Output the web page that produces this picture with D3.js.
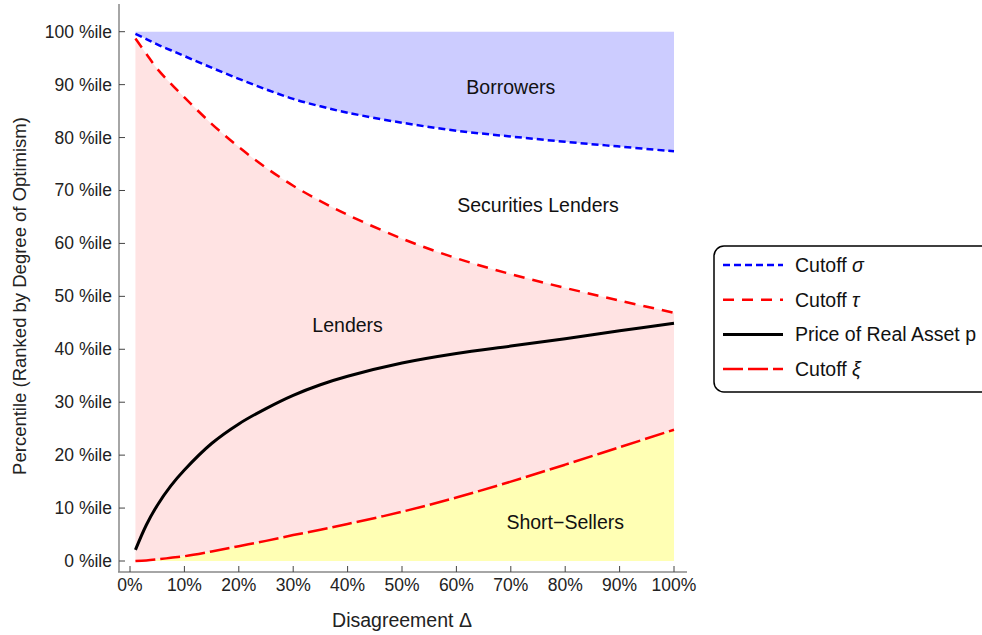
<!DOCTYPE html>
<html><head><meta charset="utf-8">
<script src="https://cdn.jsdelivr.net/npm/d3@7"></script>
<style>body{margin:0;background:#fff;}svg{display:block;font-family:"Liberation Sans",Arial,sans-serif;}</style>
</head><body>
<svg id="c" width="982" height="635"></svg>
<script>
const delta = [0.01,0.03,0.05,0.075,0.1,0.15,0.2,0.25,0.3,0.35,0.4,0.5,0.6,0.7,0.8,0.9,1.0];
const sigma = [99.6,98.6,97.6,96.5,95.4,93.2,91.1,89.1,87.3,85.9,84.7,82.8,81.3,80.2,79.2,78.3,77.4];
const tau   = [98.7,95.8,93.0,90.2,87.6,82.6,78.2,74.3,70.9,68.0,65.4,60.9,57.2,54.2,51.6,49.2,46.9];
const price = [2.1,6.8,10.5,14.2,17.2,22.2,25.9,28.8,31.3,33.3,34.9,37.4,39.2,40.6,42.0,43.5,44.9];
const xi    = [0.0,0.1,0.3,0.6,0.9,1.8,2.8,3.8,4.9,5.9,7.0,9.3,12.0,15.0,18.2,21.5,24.8];
const xTicks = [0,0.1,0.2,0.3,0.4,0.5,0.6,0.7,0.8,0.9,1.0];
const yTicks = [0,10,20,30,40,50,60,70,80,90,100];
const regionLabels = [
  {t:"Borrowers", x:0.70, y:89.5},
  {t:"Securities Lenders", x:0.75, y:67.2},
  {t:"Lenders", x:0.40, y:44.6},
  {t:"Short\u2212Sellers", x:0.80, y:7.3}
];
const legendItems = [
  {t:"Cutoff ", s:"\u03c3", color:"#0000ff", dash:"7,4", w:2.5},
  {t:"Cutoff ", s:"\u03c4", color:"#ff0000", dash:"11,8", w:2.5},
  {t:"Price of Real Asset p", s:"", color:"#000", dash:null, w:3},
  {t:"Cutoff ", s:"\u03be", color:"#ff0000", dash:"20,5", w:2.5}
];

const svg = d3.select("#c");
const x = d3.scaleLinear().domain([0,1]).range([130,674]);
const y = d3.scaleLinear().domain([0,100]).range([561,31.7]);
const data = delta.map((d,i)=>({d, s:sigma[i], t:tau[i], p:price[i], x:xi[i]}));
const curve = d3.curveCatmullRom.alpha(0.5);

svg.append("path").datum(data).attr("fill","#ccccff")
  .attr("d", d3.area().curve(curve).x(d=>x(d.d)).y0(y(100)).y1(d=>y(d.s)));
svg.append("path").datum(data).attr("fill","#ffe3e3")
  .attr("d", d3.area().curve(curve).x(d=>x(d.d)).y0(d=>y(d.x)).y1(d=>y(d.t)));
svg.append("path").datum(data).attr("fill","#ffffb4")
  .attr("d", d3.area().curve(curve).x(d=>x(d.d)).y0(y(0)).y1(d=>y(d.x)));

// axes
const axisCol = "#888";
svg.append("line").attr("x1",119).attr("x2",119).attr("y1",4).attr("y2",572).attr("stroke",axisCol).attr("stroke-width",1.5);
svg.append("line").attr("x1",118).attr("x2",687).attr("y1",572).attr("y2",572).attr("stroke",axisCol).attr("stroke-width",1.5);
const gx = svg.append("g");
xTicks.forEach(t=>{
  gx.append("line").attr("x1",x(t)).attr("x2",x(t)).attr("y1",572).attr("y2",566).attr("stroke","#444").attr("stroke-width",1);
  gx.append("text").attr("x",x(t)).attr("y",591).attr("text-anchor","middle").attr("font-size",17.5).attr("fill","#222").text(Math.round(t*100)+"%");
});
const gy = svg.append("g");
yTicks.forEach(t=>{
  gy.append("line").attr("x1",119).attr("x2",125).attr("y1",y(t)).attr("y2",y(t)).attr("stroke","#444").attr("stroke-width",1);
  gy.append("text").attr("x",112).attr("y",y(t)+6).attr("text-anchor","end").attr("font-size",17.5).attr("fill","#222").text(t+" %ile");
});
svg.append("text").attr("x",402).attr("y",627).attr("text-anchor","middle").attr("font-size",19.5).attr("fill","#222").text("Disagreement \u0394");
svg.append("text").attr("transform","translate(26,296) rotate(-90)").attr("text-anchor","middle").attr("font-size",18.5).attr("fill","#222").text("Percentile (Ranked by Degree of Optimism)");

// lines
const line = k => d3.line().curve(curve).x(d=>x(d.d)).y(d=>y(d[k]));
svg.append("path").datum(data).attr("fill","none").attr("stroke","#0000ff").attr("stroke-width",2.5).attr("stroke-dasharray","7,4").attr("d",line("s"));
svg.append("path").datum(data).attr("fill","none").attr("stroke","#ff0000").attr("stroke-width",2.5).attr("stroke-dasharray","11,8").attr("d",line("t"));
svg.append("path").datum(data).attr("fill","none").attr("stroke","#ff0000").attr("stroke-width",2.5).attr("stroke-dasharray","20,5").attr("d",line("x"));
svg.append("path").datum(data).attr("fill","none").attr("stroke","#000").attr("stroke-width",3).attr("d",line("p"));

// region labels
regionLabels.forEach(l=>{
  svg.append("text").attr("x",x(l.x)).attr("y",y(l.y)+7).attr("text-anchor","middle").attr("font-size",19.5).attr("fill","#111").text(l.t);
});

// legend
const lg = svg.append("g");
lg.append("rect").attr("x",714).attr("y",246).attr("width",300).attr("height",146).attr("rx",10).attr("fill","#fff").attr("stroke","#000").attr("stroke-width",1.5);
legendItems.forEach((it,i)=>{
  const yy = 265 + i*34.7;
  lg.append("line").attr("x1",723).attr("x2",783).attr("y1",yy).attr("y2",yy).attr("stroke",it.color).attr("stroke-width",it.w).attr("stroke-dasharray",it.dash);
  const tx = lg.append("text").attr("x",795).attr("y",yy+7).attr("font-size",19.5).attr("fill","#111");
  tx.append("tspan").text(it.t);
  if(it.s) tx.append("tspan").attr("font-style","italic").text(it.s);
});
</script>
</body></html>
